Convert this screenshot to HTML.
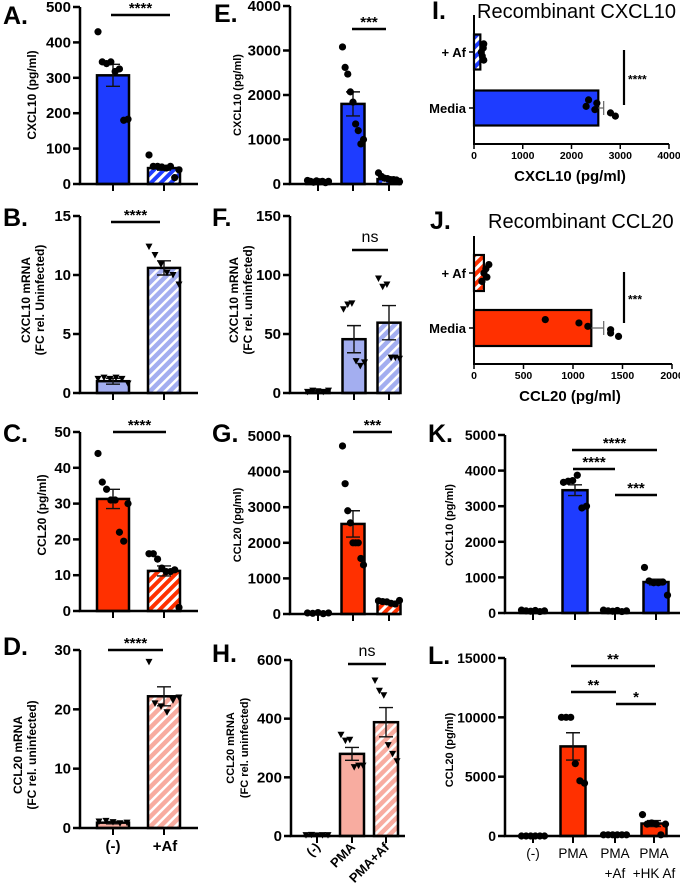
<!DOCTYPE html>
<html><head><meta charset="utf-8"><style>
html,body{margin:0;padding:0;background:#fff;}
svg{display:block;font-family:"Liberation Sans",Arial,sans-serif;}
</style></head><body>
<svg id="fig" width="680" height="891" viewBox="0 0 680 891" xmlns="http://www.w3.org/2000/svg">
<defs>
<pattern id="hBlue" patternUnits="userSpaceOnUse" width="7" height="7" patternTransform="rotate(45)"><rect width="7" height="7" fill="#1e3cff"/><rect width="3" height="7" fill="#fff"/></pattern>
<pattern id="hLBlue" patternUnits="userSpaceOnUse" width="7" height="7" patternTransform="rotate(45)"><rect width="7" height="7" fill="#a3aef0"/><rect width="2.5" height="7" fill="#fff"/></pattern>
<pattern id="hRed" patternUnits="userSpaceOnUse" width="7" height="7" patternTransform="rotate(45)"><rect width="7" height="7" fill="#ff3000"/><rect width="3" height="7" fill="#fff"/></pattern>
<pattern id="hPink" patternUnits="userSpaceOnUse" width="7" height="7" patternTransform="rotate(45)"><rect width="7" height="7" fill="#f8aca0"/><rect width="2.5" height="7" fill="#fff"/></pattern>
</defs>
</svg>
<script>
// ---- data ----
const aValues=[307,45]; const aErr=[31,6];
const aPoints=[[430,345,340,345,318,325,180,183],[82,50,50,48,45,50,18,40]];
const bValues=[1.0,10.6]; const bErr=[0.25,0.6];
const bPoints=[[1.2,1.3,1.2,1.3,1.2,0.8],[12.4,11.7,10.9,10.2,10.0,9.2]];
const cValues=[31.3,11.2]; const cErr=[2.7,1.4];
const cPoints=[[44,36,34,31,31,22,19.5,30],[16,16,14.5,12,11,11,11.5,1]];
const dValues=[0.9,22.2]; const dErr=[0.2,1.6];
const dPoints=[[1.1,1.2,1.0,0.8,0.9],[28,21,20.5,19.5,21.5,22]];
const eValues=[60,1800,110]; const eErr=[10,270,25];
const ePoints=[[80,60,40,70,50,60,30,60],[3080,2620,2470,2070,1840,1350,1200,900,1000],[250,170,130,120,100,100,90,50]];
const fValues=[1.5,45.6,59.6]; const fErr=[0.3,11.5,14.5];
const fPoints=[[1,2,1.5,1,2],[71,75,76,27,23,26],[97,90,92,30,30,29]];
const gValues=[30,2530,320]; const gErr=[10,370,30];
const gPoints=[[30,20,40,10,30],[4720,3660,2900,2560,2000,2000,2000,1560,1380],[370,350,340,300,280,380]];
const hValues=[3,280,388]; const hErr=[1,22,50];
const hPoints=[[3,4,2,3,3],[345,325,328,235,240,240],[530,495,480,310,280,255]];
const kValues=[60,3450,60,870]; const kErr=[10,150,10,80];
const kPoints=[[80,60,50,70,40,60],[3670,3700,3720,3870,2950,3000],[80,60,50,70,40,60],[1280,900,850,850,870,500]];
const lValues=[0,7550,100,1050]; const lErr=[0,1150,20,250];
const lPoints=[[0,0,0,0,0,0],[10000,10000,10000,6100,4650,4450],[100,100,100,100,100,100],[1800,1000,1100,1000,100,1000]];
const iValues=[130,2550]; const iErr=[20,110];
const iPoints=[[200,190,150,170,200],[2350,2520,2300,2480,2800,2900]];
const jValues=[100,1185]; const jErr=[15,125];
const jPoints=[[150,120,100,130,80],[720,1060,1150,1380,1380,1460]];
const iTicks=[0,1000,2000,3000,4000];
const jTicks=[0,500,1000,1500,2000];

const NS="http://www.w3.org/2000/svg";
const svg=document.getElementById('fig');
function mk(tag,attrs,parent,text){const e=document.createElementNS(NS,tag);for(const k in attrs)e.setAttribute(k,attrs[k]);if(text!==undefined)e.textContent=text;(parent||svg).appendChild(e);return e;}

function marker(g,x,y,type){
  let m;
  if(type==='tri'){m=mk('path',{d:`M${x-3.5},${y-3} L${x+3.5},${y-3} L${x},${y+3.5} Z`,fill:'#000'},g);}
  else{m=mk('circle',{cx:x,cy:y,r:3.6,fill:'#000'},g);}
  
  
}

function vpanel(p){
  const g=mk('g',{},svg);
  
  
  const Y=v=>p.y0-(v/p.max)*(p.y0-p.yTop);
  const L=mk('text',{x:p.lx,y:p.ly,'font-size':25,'font-weight':'bold'},g,p.letter);
  
  p.values.forEach((v,i)=>{
    const cx=p.cx[i],w=p.bw;
    const top=Y(v);
    const r=mk('rect',{x:cx-w/2,y:top,width:w,height:Math.max(p.y0-top,0.5),fill:p.fills[i],stroke:'#000','stroke-width':2.5},g);
    
    const e=p.err[i];
    if(e>0){
      const eh=mk('path',{d:`M${cx},${Y(v-e)} L${cx},${Y(v+e)} M${cx-7},${Y(v+e)} L${cx+7},${Y(v+e)} M${cx-7},${Y(v-e)} L${cx+7},${Y(v-e)}`,stroke:'#111','stroke-width':1.4,fill:'none'},g);
      
    }
    const pts=p.points[i],n=pts.length,sp=n>1?Math.min(7,(w-2)/(n-1)):0;
    pts.forEach((pv,j)=>{
      const k=(j%2?1:-1)*Math.ceil(j/2)*0; // placeholder
      const off=(j-(n-1)/2)*sp;
      marker(g,cx+off,Y(pv),p.marker);
    });
  });
  const ax=mk('path',{d:`M${p.ax},${p.yTop} L${p.ax},${p.y0} L${p.x1},${p.y0}`,stroke:'#000','stroke-width':2.5,fill:'none'},g);
  
  p.ticks.forEach((t,i)=>{
    const y=Y(t);
    mk('line',{x1:p.ax-7,y1:y,x2:p.ax,y2:y,stroke:'#000','stroke-width':2.5},g);
    const tl=mk('text',{x:p.ax-9,y:y+5,'font-size':p.tfs||15,'font-weight':'bold','text-anchor':'end'},g,p.tickLabels[i]);
    
  });
  p.cx.forEach(cx=>mk('line',{x1:cx,y1:p.y0,x2:cx,y2:p.y0+7,stroke:'#000','stroke-width':2},g));
  const tt=mk('text',{transform:`translate(${p.tx},${p.ty}) rotate(-90)`,'font-size':p.tsz||12,'font-weight':'bold','text-anchor':'middle'},g);
  
  p.title.forEach((s,i)=>{mk('tspan',{x:0,dy:i?14:0},tt,s);});
  (p.sig||[]).forEach(s=>{
    mk('line',{x1:s[0],y1:s[2],x2:s[1],y2:s[2],stroke:'#000','stroke-width':2.5},g);
    const st=mk('text',{x:(s[0]+s[1])/2,y:s[2]-(s[3]==='ns'?8:2),'font-size':s[3]==='ns'?16:15,'font-weight':s[3]==='ns'?'normal':'bold','text-anchor':'middle'},g,s[3]);
    
  });
  (p.xl||[]).forEach(x=>{const t=mk('text',x.a,g,x.t);});
}

const BL='#1e3cff',LB='#a3aef0',RD='#ff3000',PK='#f8aca0';
vpanel({name:'panel-a',letter:'A.',lx:3,ly:24,ax:80,x1:198,yTop:7,y0:184,max:500,ticks:[0,100,200,300,400,500],tickLabels:['0','100','200','300','400','500'],
 cx:[113,164],bw:32,values:aValues,err:aErr,points:aPoints,fills:[BL,'url(#hBlue)'],marker:'dot',title:['CXCL10 (pg/ml)'],tx:36,ty:95,sig:[[111,170,15,'****']]});
vpanel({name:'panel-b',letter:'B.',lx:3,ly:226,ax:80,x1:198,yTop:216,y0:393,max:15,ticks:[0,5,10,15],tickLabels:['0','5','10','15'],
 cx:[113,164],bw:32,values:bValues,err:bErr,points:bPoints,fills:[LB,'url(#hLBlue)'],marker:'tri',title:['CXCL10  mRNA','(FC  rel. Uninfected)'],tx:30,ty:300,sig:[[111,160,222,'****']]});
vpanel({name:'panel-c',letter:'C.',lx:3,ly:442,ax:80,x1:198,yTop:432,y0:611,max:50,ticks:[0,10,20,30,40,50],tickLabels:['0','10','20','30','40','50'],
 cx:[113,164],bw:32,values:cValues,err:cErr,points:cPoints,fills:[RD,'url(#hRed)'],marker:'dot',title:['CCL20 (pg/ml)'],tx:46,ty:515,sig:[[113,166,432,'****']]});
vpanel({name:'panel-d',letter:'D.',lx:3,ly:655,ax:80,x1:198,yTop:650,y0:828,max:30,ticks:[0,10,20,30],tickLabels:['0','10','20','30'],
 cx:[113,164],bw:32,values:dValues,err:dErr,points:dPoints,fills:[PK,'url(#hPink)'],marker:'tri',title:['CCL20  mRNA','(FC rel. uninfected)'],tx:22,ty:755,sig:[[108,163,650,'****']],
 xl:[{a:{x:113,y:851,'font-size':15,'font-weight':'bold','text-anchor':'middle'},t:'(-)'},{a:{x:165,y:851,'font-size':15,'font-weight':'bold','text-anchor':'middle'},t:'+Af'}]});

vpanel({name:'panel-e',letter:'E.',lx:214,ly:22,ax:290,x1:400,yTop:6,y0:184,max:4000,ticks:[0,1000,2000,3000,4000],tickLabels:['0','1000','2000','3000','4000'],
 cx:[318,353,389],bw:23,values:eValues,err:eErr,points:ePoints,fills:[BL,BL,'url(#hBlue)'],marker:'dot',title:['CXCL10 (pg/ml)'],tsz:11,tx:241,ty:95,sig:[[352,386,29,'***']]});
vpanel({name:'panel-f',letter:'F.',lx:212,ly:226,ax:290,x1:400,yTop:216,y0:393,max:150,ticks:[0,50,100,150],tickLabels:['0','50','100','150'],
 cx:[318,354,389],bw:23,values:fValues,err:fErr,points:fPoints,fills:[LB,LB,'url(#hLBlue)'],marker:'tri',title:['CXCL10  mRNA','(FC rel. uninfected)'],tx:238,ty:300,sig:[[352,388,250,'ns']]});
vpanel({name:'panel-g',letter:'G.',lx:212,ly:442,ax:290,x1:400,yTop:436,y0:614,max:5000,ticks:[0,1000,2000,3000,4000,5000],tickLabels:['0','1000','2000','3000','4000','5000'],
 cx:[318,353,389],bw:23,values:gValues,err:gErr,points:gPoints,fills:[RD,RD,'url(#hRed)'],marker:'dot',title:['CCL20 (pg/ml)'],tsz:11,tx:241,ty:525,sig:[[353,392,432,'***']]});
vpanel({name:'panel-h',letter:'H.',lx:212,ly:662,ax:291,x1:405,yTop:660,y0:836,max:600,ticks:[0,200,400,600],tickLabels:['0','200','400','600'],
 cx:[317,352,386],bw:24,values:hValues,err:hErr,points:hPoints,fills:[PK,PK,'url(#hPink)'],marker:'tri',title:['CCL20 mRNA','(FC rel. uninfected)'],tsz:11,tx:234,ty:748,sig:[[348,386,664,'ns']],
 xl:[{a:{transform:'translate(321,848) rotate(-45)','font-size':13,'font-weight':'bold','text-anchor':'end'},t:'(-)'},
     {a:{transform:'translate(356,848) rotate(-45)','font-size':13,'font-weight':'bold','text-anchor':'end'},t:'PMA'},
     {a:{transform:'translate(390,848) rotate(-45)','font-size':13,'font-weight':'bold','text-anchor':'end'},t:'PMA+Af'}]});

vpanel({name:'panel-k',letter:'K.',lx:428,ly:442,ax:505,x1:680,yTop:435,y0:613,max:5000,ticks:[0,1000,2000,3000,4000,5000],tickLabels:['0','1000','2000','3000','4000','5000'],tfs:14,
 cx:[533,575,615,656],bw:25,values:kValues,err:kErr,points:kPoints,fills:[BL,BL,BL,BL],marker:'dot',title:['CXCL10 (pg/ml)'],tsz:11,tx:453,ty:525,
 sig:[[572,657,450,'****'],[573,615,469,'****'],[615,657,495,'***']]});
vpanel({name:'panel-l',letter:'L.',lx:428,ly:664,ax:505,x1:680,yTop:658,y0:836,max:15000,ticks:[0,5000,10000,15000],tickLabels:['0','5000','10000','15000'],tfs:14,
 cx:[533,573,615,654],bw:25,values:lValues,err:lErr,points:lPoints,fills:[RD,RD,RD,RD],marker:'dot',title:['CCL20 (pg/ml)'],tsz:11,tx:453,ty:750,
 sig:[[571,655,666,'**'],[571,616,692,'**'],[616,656,704,'*']],
 xl:[{a:{x:533,y:858,'font-size':13.5,'text-anchor':'middle'},t:'(-)'},{a:{x:573,y:858,'font-size':13.5,'text-anchor':'middle'},t:'PMA'},
     {a:{x:615,y:858,'font-size':13.5,'text-anchor':'middle'},t:'PMA'},{a:{x:615,y:878,'font-size':13.5,'text-anchor':'middle'},t:'+Af'},
     {a:{x:654,y:858,'font-size':13.5,'text-anchor':'middle'},t:'PMA'},{a:{x:654,y:878,'font-size':13.5,'text-anchor':'middle'},t:'+HK Af'}]});

function hpanel(p){
  const g=mk('g',{},svg);
  
  
  const X=v=>p.ax+(v/p.max)*(p.xMax-p.ax);
  const L=mk('text',{x:p.lx,y:p.ly,'font-size':25,'font-weight':'bold'},g,p.letter);
  
  const T=mk('text',{x:p.titleX,y:p.titleY,'font-size':20},g,p.title);
  
  p.values.forEach((v,i)=>{
    const cy=p.cy[i],h=p.bh;
    const r=mk('rect',{x:p.ax,y:cy-h/2,width:X(v)-p.ax,height:h,fill:p.fills[i],stroke:'#000','stroke-width':2.2},g);
    
    const e=p.err[i];
    mk('path',{d:`M${X(v)},${cy} L${X(v+e)},${cy} M${X(v+e)},${cy-7} L${X(v+e)},${cy+7}`,stroke:'#666','stroke-width':1.2,fill:'none'},g);
    const pts=p.points[i],n=pts.length;
    pts.forEach((pv,j)=>marker(g,X(pv),cy+(n>1?(j-(n-1)/2)*(h-8)/(n-1):0)*0.6,'dot'));
    const cl=mk('text',{x:p.ax-8,y:cy+5,'font-size':13,'font-weight':'bold','text-anchor':'end'},g,p.cats[i]);
    
    mk('line',{x1:p.ax-5,y1:cy,x2:p.ax,y2:cy,stroke:'#000','stroke-width':1.5},g);
  });
  mk('path',{d:`M${p.ax},${p.yTop} L${p.ax},${p.y0} L${p.xMax},${p.y0}`,stroke:'#000','stroke-width':2,fill:'none'},g);
  p.ticks.forEach(t=>{
    mk('line',{x1:X(t),y1:p.y0,x2:X(t),y2:p.y0+5,stroke:'#000','stroke-width':1.5},g);
    const tl=mk('text',{x:X(t),y:p.y0+15,'font-size':10.5,'font-weight':'bold','text-anchor':'middle'},g,String(t));
    
  });
  const xt=mk('text',{x:570,y:p.y0+37,'font-size':15,'font-weight':'bold','text-anchor':'middle'},g,p.xTitle);
  
  mk('line',{x1:624,y1:p.sig[0],x2:624,y2:p.sig[1],stroke:'#000','stroke-width':2.2},g);
  const s=mk('text',{x:628,y:(p.sig[0]+p.sig[1])/2+6,'font-size':12,'font-weight':'bold'},g,p.sig[2]);
  
}
hpanel({name:'panel-i',letter:'I.',lx:432,ly:19,title:'Recombinant CXCL10',titleX:477,titleY:18,ax:474,xMax:669,max:4000,yTop:15,y0:144,
 cy:[52,108],bh:35,cats:['+ Af','Media'],values:iValues,err:iErr,points:iPoints,fills:['url(#hBlue)',BL],ticks:iTicks,xTitle:'CXCL10 (pg/ml)',sig:[50,105,'****']});
hpanel({name:'panel-j',letter:'J.',lx:430,ly:229,title:'Recombinant CCL20',titleX:488,titleY:228,ax:474,xMax:672,max:2000,yTop:236,y0:364,
 cy:[273,328],bh:36,cats:['+ Af','Media'],values:jValues,err:jErr,points:jPoints,fills:['url(#hRed)',RD],ticks:jTicks,xTitle:'CCL20 (pg/ml)',sig:[272,323,'***']});
</script>
</body></html>
